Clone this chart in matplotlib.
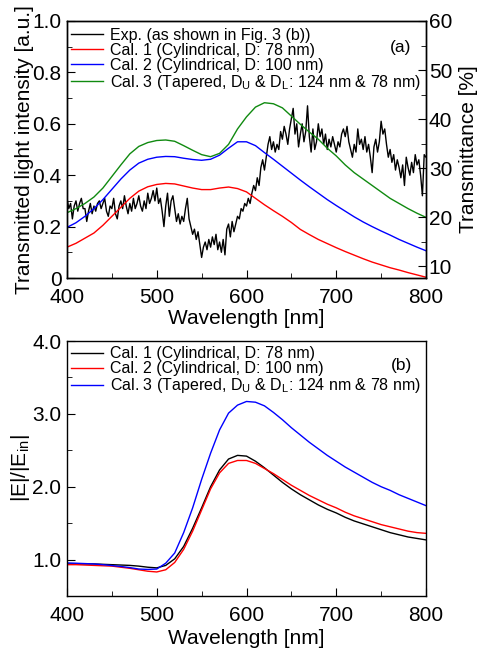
import matplotlib
matplotlib.use('Agg')
import matplotlib.pyplot as plt
from matplotlib.ticker import MultipleLocator, FuncFormatter
import numpy as np

plt.rcParams['font.family'] = ['Liberation Sans', 'DejaVu Sans']
plt.rcParams['mathtext.fontset'] = 'custom'
plt.rcParams['mathtext.rm'] = 'Liberation Sans'
plt.rcParams['mathtext.it'] = 'Liberation Sans:italic'

# --- dados do painel (a) ---
# espectro experimental (passo de 2 nm)
wl_exp = np.arange(400, 801, 2)
exp_int = [
    0.31, 0.27, 0.29, 0.23, 0.28, 0.30, 0.26, 0.29, 0.31, 0.27,
    0.27, 0.22, 0.26, 0.29, 0.25, 0.28, 0.26, 0.29, 0.30, 0.27,
    0.29, 0.31, 0.26, 0.24, 0.28, 0.27, 0.31, 0.25, 0.23, 0.28,
    0.30, 0.27, 0.32, 0.28, 0.25, 0.29, 0.26, 0.31, 0.27, 0.29,
    0.32, 0.28, 0.26, 0.30, 0.27, 0.33, 0.29, 0.31, 0.34, 0.30,
    0.35, 0.29, 0.31, 0.26, 0.20, 0.28, 0.33, 0.24, 0.30, 0.32,
    0.27, 0.22, 0.25, 0.21, 0.24, 0.22, 0.27, 0.31, 0.23, 0.20,
    0.17, 0.19, 0.15, 0.18, 0.13, 0.08, 0.12, 0.14, 0.11, 0.15,
    0.12, 0.16, 0.13, 0.17, 0.11, 0.14, 0.10, 0.15, 0.09, 0.19,
    0.21, 0.16, 0.22, 0.18, 0.21, 0.24, 0.23, 0.27, 0.26, 0.29,
    0.28, 0.31, 0.29, 0.33, 0.36, 0.34, 0.39, 0.36, 0.43, 0.46,
    0.42, 0.47, 0.52, 0.55, 0.50, 0.53, 0.49, 0.52, 0.50, 0.57,
    0.54, 0.59, 0.56, 0.52, 0.58, 0.62, 0.66, 0.56, 0.60, 0.51,
    0.56, 0.60, 0.53, 0.57, 0.67, 0.55, 0.49, 0.58, 0.50, 0.53,
    0.60, 0.55, 0.58, 0.52, 0.56, 0.50, 0.54, 0.51, 0.55, 0.52,
    0.49, 0.53, 0.51, 0.56, 0.58, 0.55, 0.59, 0.53, 0.50, 0.47,
    0.52, 0.49, 0.58, 0.52, 0.54, 0.50, 0.55, 0.49, 0.52, 0.47,
    0.41, 0.51, 0.54, 0.49, 0.53, 0.61, 0.56, 0.58, 0.52, 0.47,
    0.50, 0.45, 0.48, 0.42, 0.46, 0.43, 0.39, 0.44, 0.36, 0.47,
    0.43, 0.40, 0.45, 0.41, 0.48, 0.44, 0.46, 0.40, 0.32, 0.48,
    0.47,
]

# curvas calculadas (passo de 10 nm)
wl_cal = np.arange(400, 801, 10)
cal1_a = [0.120, 0.135, 0.155, 0.175, 0.205, 0.240, 0.275, 0.310, 0.338, 0.355,
          0.364, 0.368, 0.366, 0.358, 0.350, 0.344, 0.344, 0.350, 0.354, 0.348,
          0.335, 0.310, 0.285, 0.262, 0.240, 0.216, 0.189, 0.169, 0.150, 0.134,
          0.118, 0.103, 0.089, 0.075, 0.062, 0.051, 0.040, 0.031, 0.021, 0.012,
          0.003]
cal2_a = [0.197, 0.215, 0.240, 0.270, 0.305, 0.345, 0.385, 0.420, 0.447, 0.462,
          0.470, 0.473, 0.472, 0.466, 0.461, 0.458, 0.462, 0.478, 0.505, 0.530,
          0.530, 0.515, 0.488, 0.462, 0.435, 0.408, 0.381, 0.355, 0.330, 0.305,
          0.282, 0.260, 0.238, 0.218, 0.200, 0.183, 0.167, 0.150, 0.135, 0.120,
          0.106]
cal3_a = [0.254, 0.270, 0.290, 0.315, 0.350, 0.395, 0.440, 0.483, 0.512, 0.527,
          0.535, 0.537, 0.532, 0.515, 0.497, 0.480, 0.472, 0.485, 0.520, 0.580,
          0.627, 0.665, 0.682, 0.678, 0.662, 0.630, 0.598, 0.568, 0.540, 0.505,
          0.475, 0.440, 0.410, 0.385, 0.360, 0.335, 0.310, 0.290, 0.270, 0.252,
          0.236]

# --- dados do painel (b) ---
cal1_b = [0.94, 0.94, 0.94, 0.94, 0.935, 0.93, 0.925, 0.92, 0.91, 0.895,
          0.886, 0.92, 1.01, 1.18, 1.43, 1.71, 2.00, 2.23, 2.38, 2.43,
          2.42, 2.35, 2.26, 2.16, 2.06, 1.97, 1.89, 1.82, 1.75, 1.69,
          1.64, 1.58, 1.53, 1.49, 1.45, 1.41, 1.37, 1.34, 1.31, 1.29,
          1.27]
cal2_b = [0.93, 0.93, 0.925, 0.92, 0.915, 0.91, 0.895, 0.88, 0.86, 0.84,
          0.83, 0.86, 0.96, 1.14, 1.39, 1.68, 1.97, 2.19, 2.32, 2.36,
          2.36, 2.32, 2.25, 2.18, 2.10, 2.02, 1.95, 1.88, 1.82, 1.76,
          1.71, 1.65, 1.60, 1.56, 1.52, 1.48, 1.45, 1.42, 1.39, 1.37,
          1.36]
cal3_b = [0.954, 0.95, 0.945, 0.94, 0.93, 0.918, 0.905, 0.89, 0.87, 0.865,
          0.87, 0.95, 1.09, 1.37, 1.71, 2.10, 2.46, 2.78, 3.01, 3.12,
          3.17, 3.16, 3.11, 3.02, 2.92, 2.81, 2.71, 2.61, 2.52, 2.43,
          2.35, 2.27, 2.20, 2.13, 2.06, 2.00, 1.95, 1.89, 1.84, 1.79,
          1.74]

leg_a = ['Exp. (as shown in Fig. 3 (b))',
         'Cal. 1 (Cylindrical, D: 78 nm)',
         'Cal. 2 (Cylindrical, D: 100 nm)',
         r'Cal. 3 (Tapered, D$_\mathrm{U}$ & D$_\mathrm{L}$: 124 nm & 78 nm)']
leg_b = leg_a[1:]

W, H = 480, 651
fig = plt.figure(figsize=(W / 100, H / 100), dpi=100)
ax1 = fig.add_axes([67 / W, 1 - 278 / H, 359 / W, 257 / H])
ax2 = fig.add_axes([67 / W, 1 - 596 / H, 359 / W, 255 / H])

lw = 1.0
green = '#108a10'
leg_fs = 11.5

# painel (a)
ax1.plot(wl_exp, exp_int, color='black', lw=lw, label=leg_a[0])
ax1.plot(wl_cal, cal1_a, color='red', lw=lw, label=leg_a[1])
ax1.plot(wl_cal, cal2_a, color='blue', lw=lw, label=leg_a[2])
ax1.plot(wl_cal, cal3_a, color=green, lw=lw, label=leg_a[3])
ax1.set_xlim(400, 800)
ax1.set_ylim(0, 1.0)
ax1.xaxis.set_major_locator(MultipleLocator(100))
ax1.xaxis.set_minor_locator(MultipleLocator(50))
ax1.yaxis.set_major_locator(MultipleLocator(0.2))
ax1.yaxis.set_minor_locator(MultipleLocator(0.1))
ax1.yaxis.set_major_formatter(FuncFormatter(lambda v, p: '0' if abs(v) < 1e-9 else f'{v:.1f}'))
ax1.set_xlabel('Wavelength [nm]', fontsize=15, labelpad=2)
ax1.set_ylabel('Transmitted light intensity [a.u.]', fontsize=15, labelpad=-1)

ax1r = ax1.twinx()
ax1r.set_ylim(7.6, 60)
ax1r.yaxis.set_major_locator(MultipleLocator(10))
ax1r.yaxis.set_minor_locator(MultipleLocator(5))
ax1r.set_ylabel('Transmittance [%]', fontsize=15, labelpad=5)
ax1r.tick_params(which='both', direction='in', labelsize=15, pad=2)
ax1r.tick_params(which='major', length=6)
ax1r.tick_params(which='minor', length=3.5)

ax1.legend(loc='upper left', bbox_to_anchor=(0.012, 0.973), frameon=False, fontsize=leg_fs,
           handlelength=2.0, handletextpad=0.4, labelspacing=0.0,
           borderpad=0, borderaxespad=0)
ax1.text(0.93, 0.895, '(a)', transform=ax1.transAxes, fontsize=12.5, ha='center', va='center')

# painel (b)
ax2.plot(wl_cal, cal1_b, color='black', lw=lw, label=leg_b[0])
ax2.plot(wl_cal, cal2_b, color='red', lw=lw, label=leg_b[1])
ax2.plot(wl_cal, cal3_b, color='blue', lw=lw, label=leg_b[2])
ax2.set_xlim(400, 800)
ax2.set_ylim(0.5, 4.0)
ax2.xaxis.set_major_locator(MultipleLocator(100))
ax2.xaxis.set_minor_locator(MultipleLocator(50))
ax2.yaxis.set_major_locator(MultipleLocator(1.0))
ax2.yaxis.set_minor_locator(MultipleLocator(0.5))
ax2.yaxis.set_major_formatter(FuncFormatter(lambda v, p: f'{v:.1f}'))
ax2.set_xlabel('Wavelength [nm]', fontsize=15, labelpad=3)
ax2.set_ylabel(r'|E|/|E$_\mathrm{in}$|', fontsize=15, labelpad=0.5)
ax2.legend(loc='upper left', bbox_to_anchor=(0.012, 0.98), frameon=False, fontsize=leg_fs,
           handlelength=2.0, handletextpad=0.4, labelspacing=0.0,
           borderpad=0, borderaxespad=0)
ax2.text(0.933, 0.903, '(b)', transform=ax2.transAxes, fontsize=12.5, ha='center', va='center')

for ax in (ax1, ax2):
    ax.tick_params(which='both', direction='in', labelsize=15, top=False, right=False)
    ax.tick_params(which='major', length=6)
    ax.tick_params(axis='x', which='major', pad=7)
    ax.tick_params(axis='y', which='major', pad=4)
    ax.tick_params(which='minor', length=3.5)
for ax in (ax1, ax1r, ax2):
    for s in ax.spines.values():
        s.set_linewidth(1.0)

fig.savefig('out.png', dpi=100)
